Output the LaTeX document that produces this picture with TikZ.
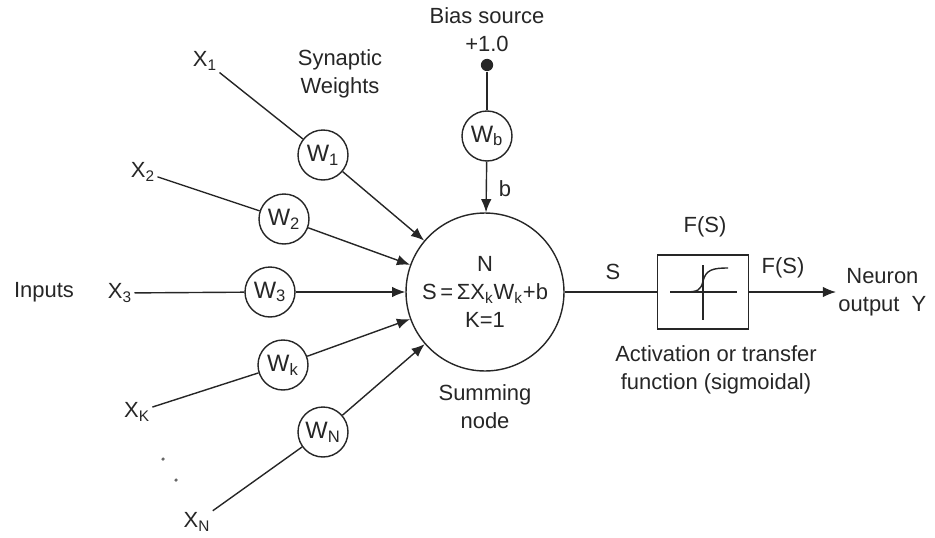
\documentclass[tikz,border=0pt]{standalone}
\usepackage{fontspec}
\setmainfont{Liberation Sans}
\usetikzlibrary{arrows.meta}
\definecolor{Ink}{HTML}{262626}
\begin{document}
\begin{tikzpicture}[x=0.02cm, y=-0.02cm, line width=0.8pt, draw=Ink, text=Ink,
    font=\fontsize{12.5}{16}\selectfont,
    wgt/.style={draw, circle, minimum size=1cm, inner sep=0pt, font=\fontsize{13.5}{16}\selectfont},
    lbl/.style={align=center, inner sep=1pt},
    arr/.style={-{Latex[length=7.5pt,width=6pt]}}]
    \useasboundingbox (0,0) rectangle (935,537);
    % Summing node and activation box
    \node[draw, circle, minimum size=3.16cm, inner sep=0pt, align=center] (sum) at (485,292)
        {N\\S\,=\,ΣX\textsubscript{k}W\textsubscript{k}+b\\K=1};
    \node[draw, minimum width=1.82cm, minimum height=1.48cm] (box) at (703,292) {};
    % Inputs
    \node[lbl] (x1) at (205,61) {X\textsubscript{1}};
    \node[lbl] (x2) at (143,172) {X\textsubscript{2}};
    \node[lbl] (x3) at (120,293) {X\textsubscript{3}};
    \node[lbl] (xk) at (137,412) {X\textsubscript{K}};
    \node[lbl] (xn) at (197,522) {X\textsubscript{N}};
    \node[lbl] (inputs) at (44,292) {Inputs};
    \fill[Ink!70] (163,459) circle (1pt);
    \fill[Ink!70] (176,480) circle (1pt);
    % Weights
    \node[wgt] (w1) at (323,155) {W\textsubscript{1}};
    \node[wgt] (w2) at (284,219) {W\textsubscript{2}};
    \node[wgt] (w3) at (270,292) {W\textsubscript{3}};
    \node[wgt] (wk) at (283,365) {W\textsubscript{k}};
    \node[wgt] (wn) at (323,432) {W\textsubscript{N}};
    \node[wgt] (wb) at (487,136) {W\textsubscript{b}};
    \node[lbl] (synw) at (340,74) {Synaptic\\Weights};
    % Bias
    \node[lbl] (bias) at (487,30) {Bias source\\+1.0};
    \node[circle, fill=Ink, inner sep=0pt, minimum size=7pt] (dot) at (487,65) {};
    \node[lbl] (b) at (505,189) {b};
    % Connections
    \foreach \i in {1,2,3,k,n} {
        \draw (x\i) -- (w\i);
        \draw[arr] (w\i) -- (sum);
    }
    \draw (dot) -- (wb);
    \draw[arr] (wb) -- (sum);
    % Output side
    \node[lbl] (s) at (613,272) {S};
    \node[lbl] (fs1) at (705,227) {F(S)};
    \node[lbl] (fs2) at (783,268) {F(S)};
    \node[lbl, anchor=west] (yout) at (836,292) {Neuron\\output~~Y};
    \draw (sum) -- (box);
    \draw[arr] (box.east) -- (yout.west);
    % Sigmoid sketch
    \draw (670,292) -- (737,292);
    \draw (703,265) -- (703,320);
    \draw (685,292) .. controls (698,292) and (701,290) .. (703,281)
        .. controls (706,270) and (712,268) .. (728,268);
    % Captions
    \node[lbl] (sumcap) at (485,407) {Summing\\node};
    \node[lbl] (actcap) at (716,370) {Activation or transfer\\function (sigmoidal)};
\end{tikzpicture}
\end{document}
